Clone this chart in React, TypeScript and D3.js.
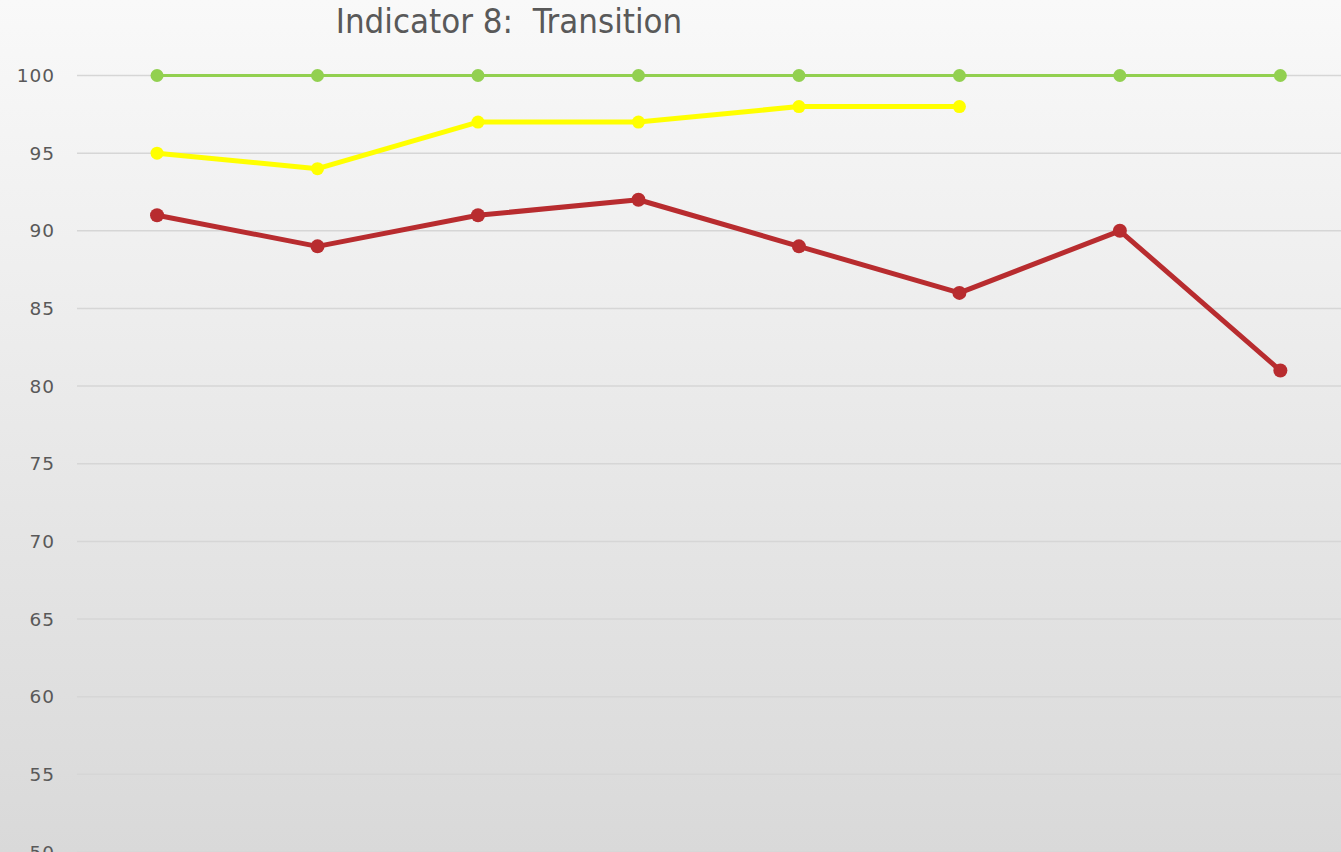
import React from "react";
import * as d3 from "d3";

const categories = ["1", "2", "3", "4", "5", "6", "7", "8"];
const greenValues = [100, 100, 100, 100, 100, 100, 100, 100];
const yellowValues = [95, 94, 97, 97, 98, 98];
const redValues = [91, 89, 91, 92, 89, 86, 90, 81];
const yTicks = [100, 95, 90, 85, 80, 75, 70, 65, 60, 55, 50];
const title = "Indicator 8:  Transition";

const W = 1341;
const H = 852;

export default function App() {
  const x = d3.scaleBand<string>().domain(categories).range([76.8, 1360.6]).padding(0);
  const cx = (i: number) => (x(categories[i]) as number) + x.bandwidth() / 2;
  const y = d3.scaleLinear().domain([50, 100]).range([852, 75.5]);

  const line = d3
    .line<number>()
    .x((_, i) => cx(i))
    .y((d) => y(d));

  const series = [
    { values: greenValues, color: "#92d050", width: 3, r: 6.5 },
    { values: yellowValues, color: "#ffff00", width: 5, r: 6.5 },
    { values: redValues, color: "#b82c2f", width: 5, r: 7 },
  ];

  return (
    <svg
      width={W}
      height={H}
      style={{ position: "absolute", left: 0, top: 0, display: "block" }}
    >
      <defs>
        <linearGradient id="bg" x1="0" y1="0" x2="0" y2="1">
          <stop offset="0" stopColor="#f9f9f9" />
          <stop offset="1" stopColor="#d9d9d9" />
        </linearGradient>
      </defs>
      <rect x={0} y={0} width={W} height={H} fill="url(#bg)" />
      <text
        x={509}
        y={33}
        textAnchor="middle"
        fontFamily="'Liberation Sans Narrow', 'DejaVu Sans Condensed', 'Roboto', sans-serif"
        fontSize={34.5}
        fill="#595959"
        style={{ whiteSpace: "pre" }}
      >
        {title}
      </text>
      {yTicks.map((t) => (
        <g key={t}>
          <line x1={77} x2={W} y1={y(t)} y2={y(t)} stroke="#d6d6d6" strokeWidth={1.5} />
          <text
            x={55}
            y={y(t)}
            dy="0.36em"
            textAnchor="end"
            fontFamily="'DejaVu Sans', sans-serif"
            fontSize={18.5}
            letterSpacing={1}
            fill="#595959"
          >
            {t}
          </text>
        </g>
      ))}
      {series.map((s, si) => (
        <g key={si}>
          <path
            d={line(s.values) as string}
            fill="none"
            stroke={s.color}
            strokeWidth={s.width}
            strokeLinejoin="round"
          />
          {s.values.map((v, i) => (
            <circle key={i} cx={cx(i)} cy={y(v)} r={s.r} fill={s.color} />
          ))}
        </g>
      ))}
    </svg>
  );
}
